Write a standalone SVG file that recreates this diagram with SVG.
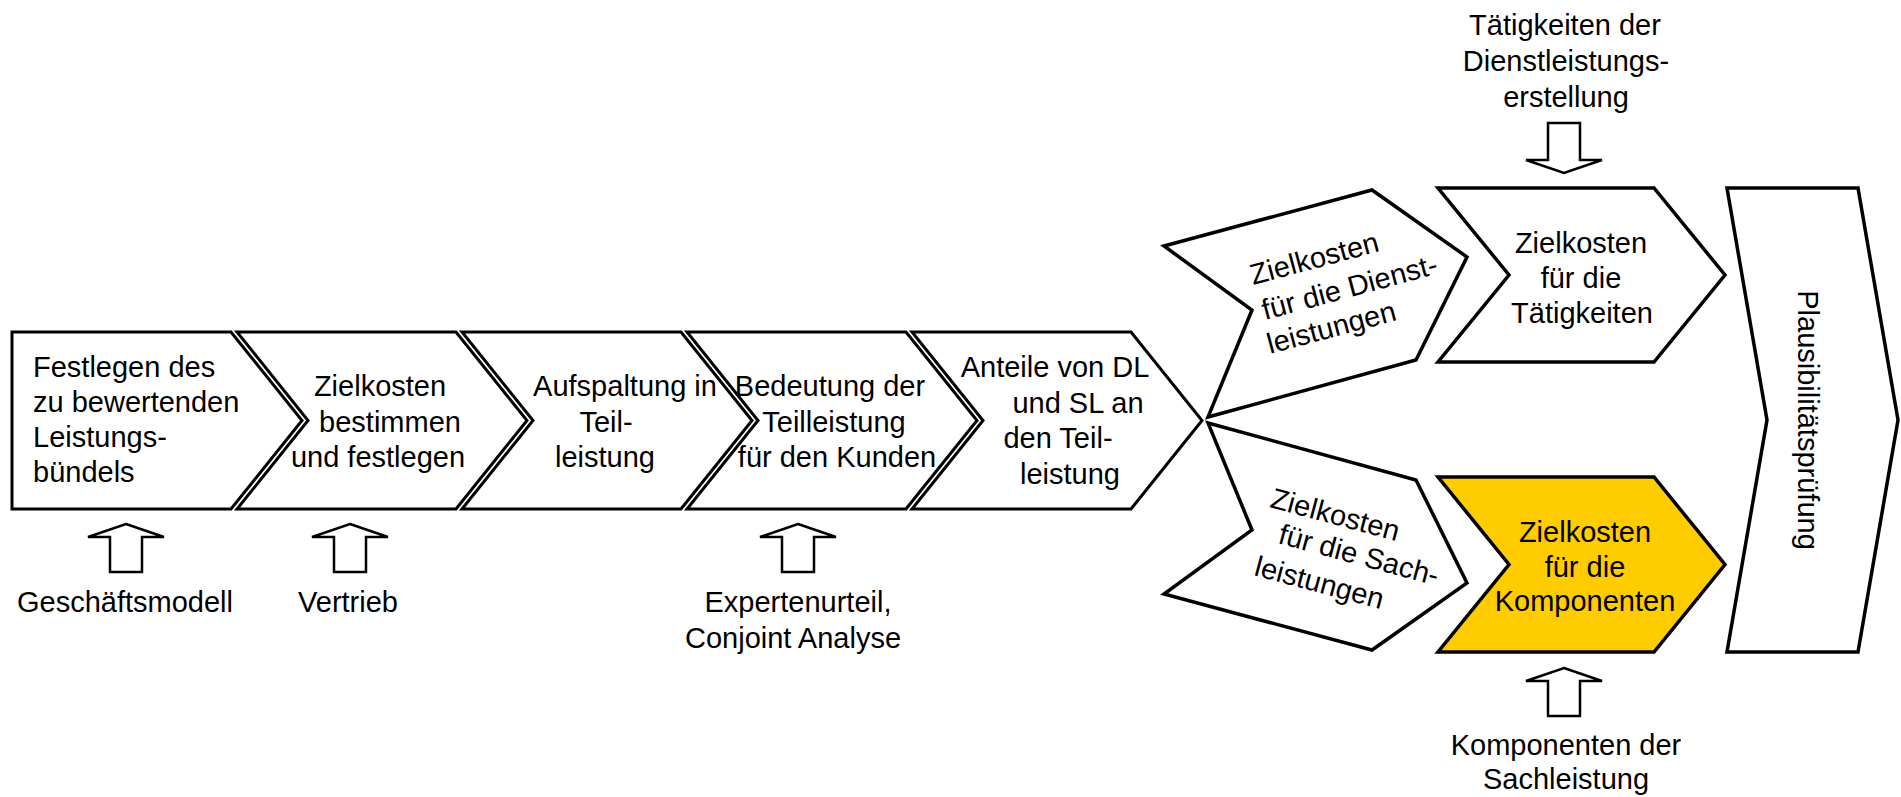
<svg xmlns="http://www.w3.org/2000/svg" width="1901" height="797" viewBox="0 0 1901 797">
<style>
text{font-family:"Liberation Sans",Arial,sans-serif;font-size:29px;fill:#000}
.chev{fill:#fff;stroke:#000;stroke-width:3;stroke-linejoin:miter}
.shape{fill:#fff;stroke:#000;stroke-width:3.5;stroke-linejoin:miter}
.yellow{fill:#FFCC00}
.arr{fill:#fff;stroke:#000;stroke-width:2.5;stroke-linejoin:miter}
.m{text-anchor:middle}
</style>
<rect width="1901" height="797" fill="#fff"/>

<g id="step1">
<path class="chev" d="M12,332 H231 L302,420.5 L231,509 H12 Z"/>
<text x="33" y="377">Festlegen des</text>
<text x="33" y="412">zu bewertenden</text>
<text x="33" y="447">Leistungs-</text>
<text x="33" y="482">bündels</text>
</g>

<g id="step2">
<path class="chev" d="M237,332 H456 L527,420.5 L456,509 H237 L308,420.5 Z"/>
<text class="m" x="380" y="396">Zielkosten</text>
<text class="m" x="390" y="431.5">bestimmen</text>
<text class="m" x="378" y="467">und festlegen</text>
</g>

<g id="step3">
<path class="chev" d="M462,332 H681 L752,420.5 L681,509 H462 L533,420.5 Z"/>
<text class="m" x="625" y="396">Aufspaltung in</text>
<text class="m" x="606" y="431.5">Teil-</text>
<text class="m" x="605" y="467">leistung</text>
</g>

<g id="step4">
<path class="chev" d="M687,332 H906 L977,420.5 L906,509 H687 L758,420.5 Z"/>
<text class="m" x="830" y="396">Bedeutung der</text>
<text class="m" x="834" y="431.5">Teilleistung</text>
<text class="m" x="837" y="467">für den Kunden</text>
</g>

<g id="step5">
<path class="chev" d="M912,332 H1131 L1202,420.5 L1131,509 H912 L983,420.5 Z"/>
<text class="m" x="1055" y="377">Anteile von DL</text>
<text class="m" x="1078" y="412.5">und SL an</text>
<text class="m" x="1058" y="448">den Teil-</text>
<text class="m" x="1070" y="483.5">leistung</text>
</g>

<g id="dienstleistungen">
<path class="shape" d="M1164,246 L1372,190 L1467,257 L1416,360 L1208,417 L1252,310 Z"/>
<text transform="translate(1253,285) rotate(-15)">Zielkosten</text>
<text transform="translate(1265,320) rotate(-15)">für die Dienst-</text>
<text transform="translate(1270,354) rotate(-15)">leistungen</text>
</g>

<g id="sachleistungen">
<path class="shape" d="M1208,423 L1416,480 L1467,583 L1372,650 L1164,594 L1252,530 Z"/>
<text transform="translate(1269,507) rotate(15)">Zielkosten</text>
<text transform="translate(1277,543) rotate(15)">für die Sach-</text>
<text transform="translate(1253,575) rotate(15)">leistungen</text>
</g>

<g id="taetigkeiten">
<path class="shape" d="M1438,188 H1654 L1725,275 L1654,362 H1438 L1509,275 Z"/>
<text class="m" x="1581" y="253">Zielkosten</text>
<text class="m" x="1581" y="288">für die</text>
<text class="m" x="1582" y="323">Tätigkeiten</text>
</g>

<g id="komponenten">
<path class="shape yellow" d="M1438,477 H1654 L1725,564.5 L1654,652 H1438 L1509,564.5 Z"/>
<text class="m" x="1585" y="542">Zielkosten</text>
<text class="m" x="1585" y="577">für die</text>
<text class="m" x="1585" y="611">Komponenten</text>
</g>

<g id="plausibilitaet">
<path class="shape" d="M1727,188 H1858 L1898,420 L1858,652 H1727 L1767,420 Z"/>
<text class="m" transform="translate(1798,420) rotate(90)">Plausibilitätsprüfung</text>
</g>

<g id="label-taetigkeiten">
<text class="m" x="1565" y="35">Tätigkeiten der</text>
<text class="m" x="1566" y="71">Dienstleistungs-</text>
<text class="m" x="1566" y="107">erstellung</text>
</g>
<g id="label-komponenten">
<text class="m" x="1566" y="755">Komponenten der</text>
<text class="m" x="1566" y="789">Sachleistung</text>
</g>
<g id="label-geschaeftsmodell"><text class="m" x="125" y="612">Geschäftsmodell</text></g>
<g id="label-vertrieb"><text class="m" x="348" y="612">Vertrieb</text></g>
<g id="label-experten">
<text class="m" x="798" y="612">Expertenurteil,</text>
<text class="m" x="793" y="648">Conjoint Analyse</text>
</g>

<g id="connectors">
<polygon class="arr" points="126,524 164,537 142,537 142,572 110,572 110,537 88,537"/>
<polygon class="arr" points="350,524 388,537 366,537 366,572 334,572 334,537 312,537"/>
<polygon class="arr" points="798,524 836,537 814,537 814,572 782,572 782,537 760,537"/>
<polygon class="arr" points="1564,668 1602,681 1580,681 1580,716 1548,716 1548,681 1526,681"/>
<polygon class="arr" points="1548,123 1580,123 1580,160 1602,160 1564,173 1526,160 1548,160"/>
</g>
</svg>
